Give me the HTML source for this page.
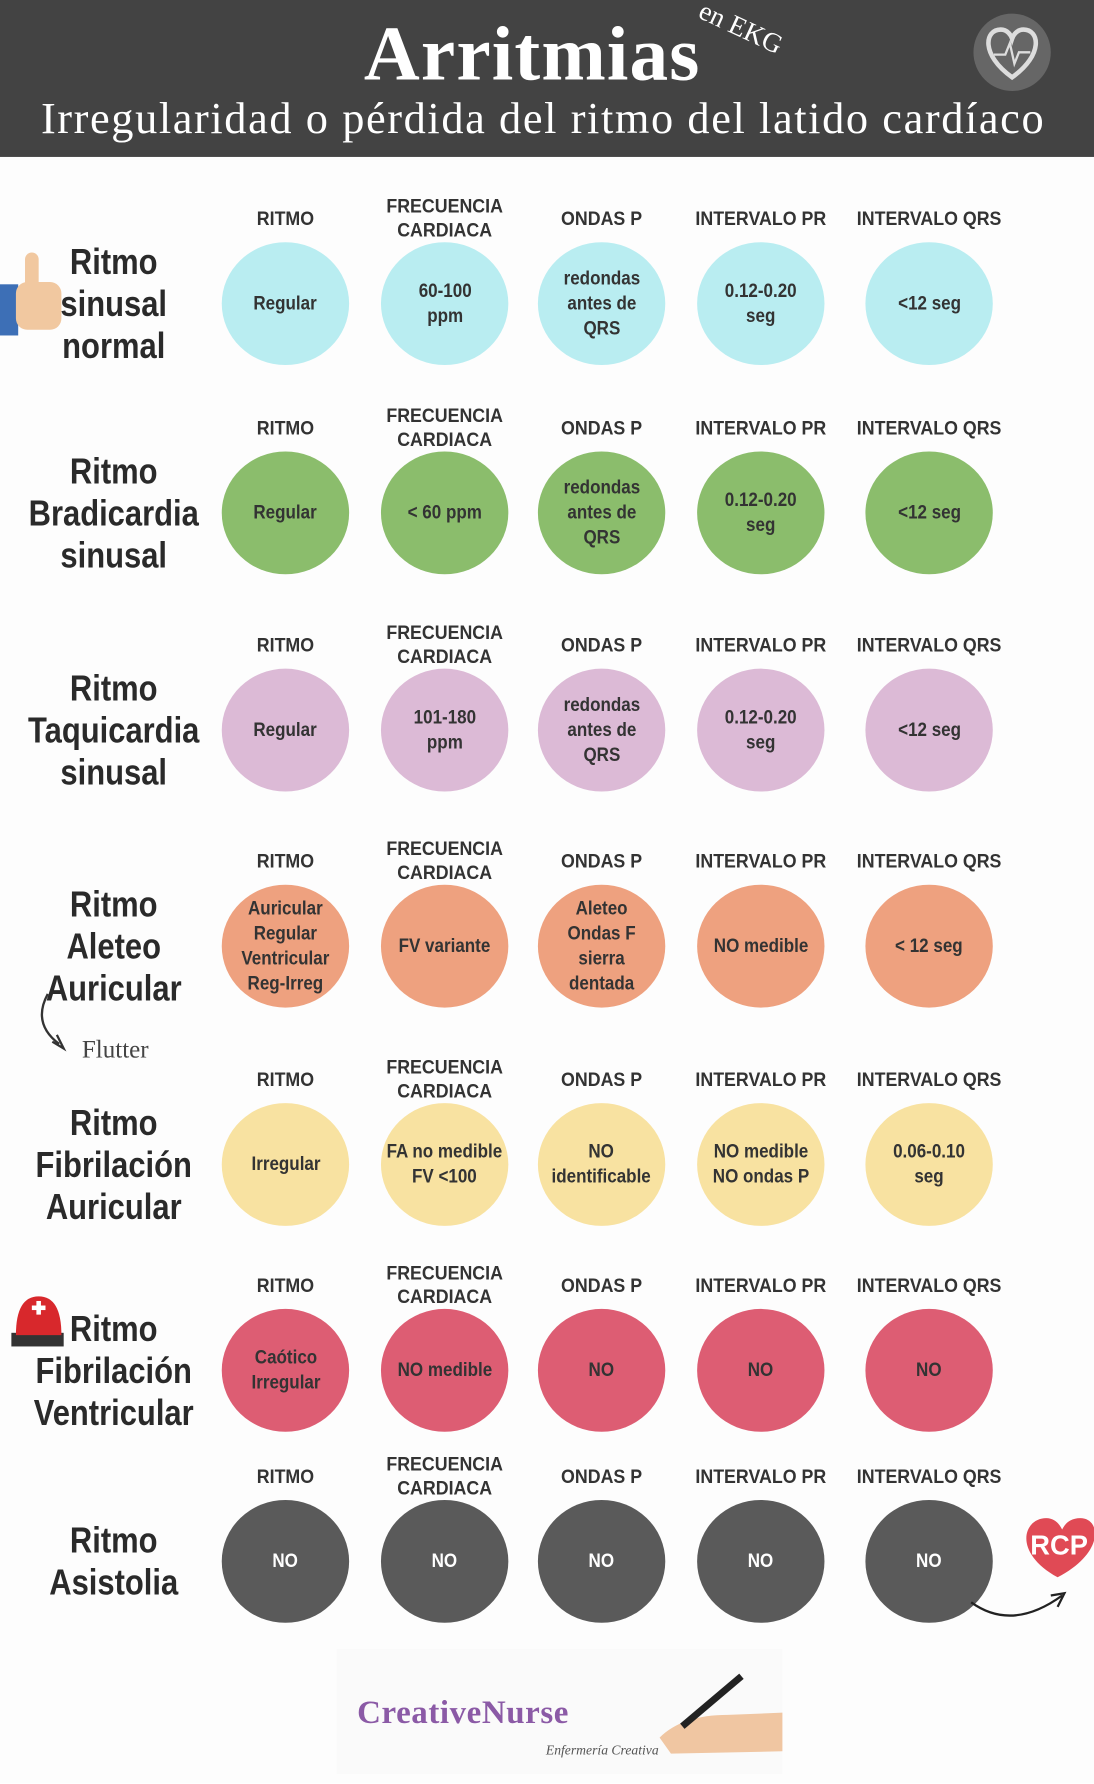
<!DOCTYPE html>
<html><head><meta charset="utf-8"><style>
html,body{margin:0;padding:0;background:#fff;width:1094px;height:1784px;overflow:hidden}
#w{position:absolute;left:0;top:0;width:962px;height:1568px;transform:scale(1.13721);transform-origin:0 0;background:#fdfdfd;font-family:"Liberation Sans Narrow","Liberation Sans",sans-serif}
.hd{position:absolute;left:0;top:0;width:962px;height:138px;background:#434343}
.t{position:absolute;color:#fff;font-family:"Liberation Serif",serif;white-space:nowrap}
.c{position:absolute;width:112px;height:108px;border-radius:50%;display:flex;align-items:center;justify-content:center;text-align:center;font-size:17px;line-height:22px;color:#333;font-weight:bold}
.c span{display:inline-block;transform:scaleX(.88);white-space:nowrap}
.h{position:absolute;width:150px;text-align:center;font-size:17px;line-height:21px;color:#333;font-weight:bold;transform:scaleX(.92)}
.rl{position:absolute;left:0;width:200px;text-align:center;font-size:32px;line-height:37px;color:#2a2a2a;font-weight:bold;transform:scaleX(.85)}
</style></head><body><div id="w">
<div class="hd"></div>
<div class="t" style="left:320px;top:8px;font-size:68px;font-weight:bold;letter-spacing:1px">Arritmias</div>
<div class="t" style="left:612px;top:12px;font-size:24px;transform:rotate(25deg)">en EKG</div>
<div class="t" style="left:36px;top:82px;font-size:39px;letter-spacing:1.4px">Irregularidad o pérdida del ritmo del latido cardíaco</div>
<svg style="position:absolute;left:852px;top:10px" width="76" height="72"><circle cx="38" cy="36" r="34" fill="#666"/><path d="M38 58 C10 38 14 16 28 16 C34 16 37 21 38 24 C39 21 42 16 48 16 C62 16 66 38 38 58Z" fill="none" stroke="#ddd" stroke-width="4"/><path d="M22 38 H32 L36 28 L40 46 L44 36 H54" fill="none" stroke="#ddd" stroke-width="2"/></svg>
<div id="g"></div>
<svg style="position:absolute;left:0;top:220px" width="60" height="80"><rect x="0" y="30" width="16" height="45" fill="#3d6fb6"/><rect x="14" y="28" width="40" height="42" rx="10" fill="#f1c8a0"/><rect x="22" y="2" width="12" height="34" rx="6" fill="#f1c8a0"/></svg>
<svg style="position:absolute;left:4px;top:1136px" width="56" height="52"><rect x="6" y="36" width="46" height="12" fill="#333"/><path d="M10 38 Q10 4 30 4 Q50 4 50 38Z" fill="#d8282c"/><rect x="24" y="12" width="12" height="4" fill="#fff"/><rect x="28" y="8" width="4" height="12" fill="#fff"/></svg>
<svg style="position:absolute;left:28px;top:870px" width="130" height="70"><path d="M14 4 Q0 30 24 48" fill="none" stroke="#333" stroke-width="2"/><path d="M18 46 L28 52 L22 40" fill="none" stroke="#333" stroke-width="2"/></svg>
<div style="position:absolute;left:72px;top:910px;font-family:'Liberation Serif',serif;font-size:22px;color:#444">Flutter</div>
<svg style="position:absolute;left:850px;top:1325px" width="112" height="110"><path d="M80 62 C40 40 50 10 70 10 C78 10 82 16 84 20 C86 16 90 10 100 10 C118 10 122 40 80 62Z" fill="#e04a55"/><text x="56" y="42" font-family="Liberation Sans" font-weight="bold" font-size="24" fill="#fff">RCP</text><path d="M4 84 Q40 110 84 78" fill="none" stroke="#222" stroke-width="2"/><path d="M74 78 L86 76 L80 88" fill="none" stroke="#222" stroke-width="2"/></svg>
<div style="position:absolute;left:296px;top:1450px;width:392px;height:110px;background:#fafafa"></div>
<div style="position:absolute;left:314px;top:1490px;font-family:'Liberation Serif',serif;font-weight:bold;font-size:29px;color:#8b5aa6;letter-spacing:.5px">CreativeNurse</div>
<div style="position:absolute;left:480px;top:1532px;font-family:'Liberation Serif',serif;font-style:italic;font-size:12px;color:#555">Enfermería Creativa</div>
<svg style="position:absolute;left:560px;top:1468px" width="130" height="80"><path d="M20 60 Q40 40 80 40 L128 38 L128 72 L30 74Z" fill="#f0c6a2"/><path d="M40 50 L92 6" stroke="#222" stroke-width="6"/></svg>
<script>
var cols=[251,391,529,669,817];
var rows=[
[267,"#b9edf1",["Regular","60-100<br>ppm","redondas<br>antes de<br>QRS","0.12-0.20<br>seg","&lt;12 seg"],"Ritmo<br>sinusal<br>normal"],
[451,"#8bbd6c",["Regular","&lt; 60 ppm","redondas<br>antes de<br>QRS","0.12-0.20<br>seg","&lt;12 seg"],"Ritmo<br>Bradicardia<br>sinusal"],
[642,"#dcbad6",["Regular","101-180<br>ppm","redondas<br>antes de<br>QRS","0.12-0.20<br>seg","&lt;12 seg"],"Ritmo<br>Taquicardia<br>sinusal"],
[832,"#eea17f",["Auricular<br>Regular<br>Ventricular<br>Reg-Irreg","FV variante","Aleteo<br>Ondas F<br>sierra<br>dentada","NO medible","&lt; 12 seg"],"Ritmo<br>Aleteo<br>Auricular"],
[1024,"#f8e2a1",["Irregular","FA no medible<br>FV &lt;100","NO<br>identificable","NO medible<br>NO ondas P","0.06-0.10<br>seg"],"Ritmo<br>Fibrilación<br>Auricular"],
[1205,"#dd5d73",["Caótico<br>Irregular","NO medible","NO","NO","NO"],"Ritmo<br>Fibrilación<br>Ventricular"],
[1373,"#5a5a5a",["NO","NO","NO","NO","NO"],"Ritmo<br>Asistolia"]];
var hs=["RITMO","FRECUENCIA<br>CARDIACA","ONDAS P","INTERVALO PR","INTERVALO QRS"];
var s="";
rows.forEach(function(r){
var y=r[0];
r[2].forEach(function(t,i){
var x=cols[i];
s+='<div class="c" style="left:'+(x-56)+'px;top:'+(y-54)+'px;background:'+r[1]+(r[1]=="#5a5a5a"?';color:#fff':'')+'"><span>'+t+'</span></div>';
s+='<div class="h" style="left:'+(x-75)+'px;top:'+(i==1?y-96:y-85)+'px">'+hs[i]+'</div>';
});
var n=r[3].split("<br>").length;
s+='<div class="rl" style="top:'+(y-n*37/2)+'px">'+r[3]+'</div>';
});
document.getElementById("g").innerHTML=s;
</script>
</div></body></html>
